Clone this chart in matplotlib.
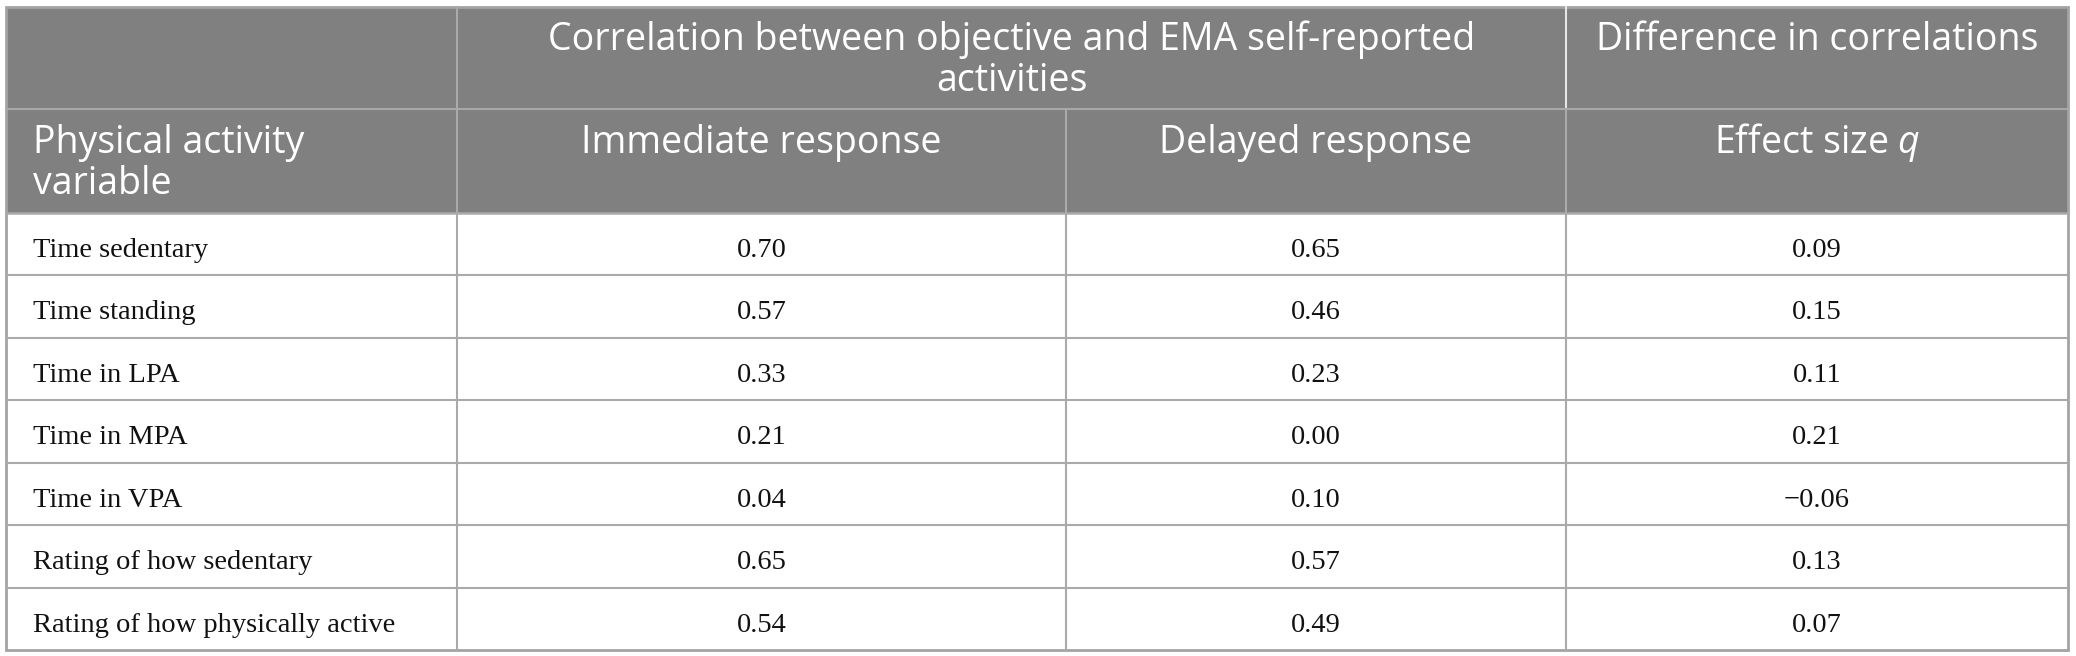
import matplotlib.pyplot as plt
from matplotlib.patches import Rectangle

# --- table content ---
group_headers = ["", "Correlation between objective and EMA self-reported\nactivities",
                 "Difference in correlations"]
column_headers = ["Physical activity\nvariable", "Immediate response", "Delayed response",
                  r"Effect size $\mathit{q}$"]
row_labels = ["Time sedentary", "Time standing", "Time in LPA", "Time in MPA",
              "Time in VPA", "Rating of how sedentary", "Rating of how physically active"]
immediate = [0.70, 0.57, 0.33, 0.21, 0.04, 0.65, 0.54]
delayed = [0.65, 0.46, 0.23, 0.00, 0.10, 0.57, 0.49]
effect_q = [0.09, 0.15, 0.11, 0.21, -0.06, 0.13, 0.07]

# --- layout (pixel units) ---
W, H = 2076, 656
x_edges = [6, 457, 1066, 1566, 2068]
head_top, head_mid, head_bot, table_bot = 7, 109, 213, 650
line_gap = 41
header_bg = "#808080"
grid_col = "#aaaaaa"

plt.rcParams["mathtext.fontset"] = "custom"
plt.rcParams["mathtext.rm"] = "Open Sans"
plt.rcParams["mathtext.it"] = "Open Sans:italic"

head_font = dict(family="Open Sans", size=27, color="white")
body_font = dict(family="Liberation Serif", size=20.5, color="#111111")

fig = plt.figure(figsize=(W / 100, H / 100), dpi=100)
ax = fig.add_axes([0, 0, 1, 1])
ax.set_xlim(0, W)
ax.set_ylim(H, 0)
ax.axis("off")

# header background
ax.add_patch(Rectangle((x_edges[0], head_top), x_edges[-1] - x_edges[0], head_bot - head_top,
                       facecolor=header_bg, edgecolor="none"))


def draw_lines(text, x, y0, ha, font):
    for k, line in enumerate(text.split("\n")):
        ax.text(x, y0 + k * line_gap, line, ha=ha, va="baseline", **font)


# group header row
spans = [(x_edges[0], x_edges[1]), (x_edges[1], x_edges[3]), (x_edges[3], x_edges[4])]
for (a, b), label in zip(spans, group_headers):
    if label:
        draw_lines(label, (a + b) / 2, head_top + 43, "center", head_font)

# column header row
for j, label in enumerate(column_headers):
    if j == 0:
        draw_lines(label, x_edges[0] + 27, head_mid + 44, "left", head_font)
    else:
        draw_lines(label, (x_edges[j] + x_edges[j + 1]) / 2, head_mid + 44, "center", head_font)

# body rows
n = len(row_labels)
row_h = (table_bot - head_bot) / n


def fmt(v):
    return f"{v:.2f}".replace("-", "\u2212")


for i in range(n):
    top = head_bot + i * row_h
    base = top + 44
    ax.text(x_edges[0] + 27, base, row_labels[i], ha="left", va="baseline", **body_font)
    for j, vals in enumerate([immediate, delayed, effect_q], start=1):
        cx = (x_edges[j] + x_edges[j + 1]) / 2
        ax.text(cx, base, fmt(vals[i]), ha="center", va="baseline", **body_font)
    if i > 0:
        ax.plot([x_edges[0], x_edges[-1]], [top, top], color=grid_col, lw=1.5, solid_capstyle="butt")

# header separators
ax.plot([x_edges[0], x_edges[-1]], [head_mid, head_mid], color="#a8a8a8", lw=1.5)
ax.plot([x_edges[0], x_edges[-1]], [head_bot, head_bot], color=grid_col, lw=1.8)

# vertical separators
ax.plot([x_edges[1], x_edges[1]], [head_top, table_bot], color=grid_col, lw=1.5)
ax.plot([x_edges[2], x_edges[2]], [head_mid, table_bot], color=grid_col, lw=1.5)
ax.plot([x_edges[3], x_edges[3]], [head_top, head_mid], color="#e6e6e6", lw=1.5)
ax.plot([x_edges[3], x_edges[3]], [head_mid, table_bot], color=grid_col, lw=1.5)

# outer border
ax.add_patch(Rectangle((x_edges[0], head_top), x_edges[-1] - x_edges[0], table_bot - head_top,
                       facecolor="none", edgecolor="#a3a3a3", lw=2.0))

fig.savefig("out.png", dpi=100, facecolor="white")
